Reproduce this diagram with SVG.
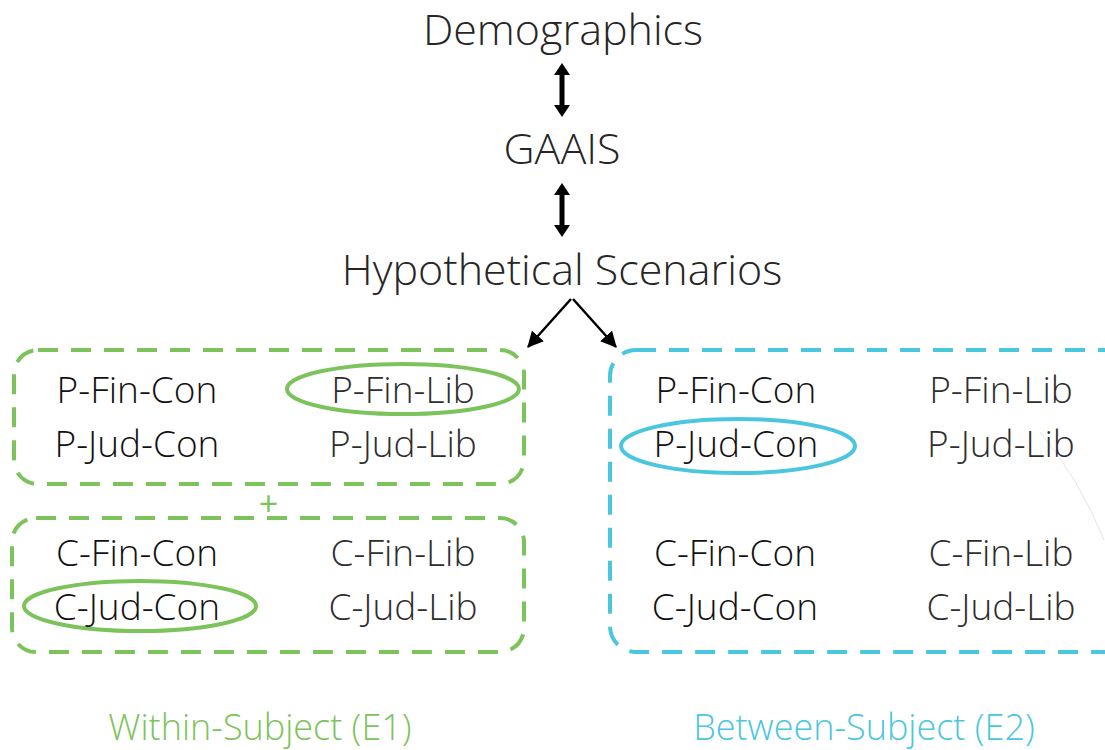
<svg xmlns="http://www.w3.org/2000/svg" width="1105" height="750" viewBox="0 0 1105 750">
  <style>
    .t { font-family: "Open Sans", "Liberation Sans", sans-serif; font-weight: 300; text-anchor: middle; fill: #262626; }
    .head { font-size: 43px; }
    .cell { font-size: 37px; fill: #111111; }
    .lib { fill: #2e2e2e; }
    .green { stroke: #7dc35b; fill: none; stroke-width: 4; }
    .blue { stroke: #4bc6df; fill: none; stroke-width: 4; }
    .dash { stroke-dasharray: 20 13; }
    .lbl { font-size: 36px; }
  </style>
  <defs>
    <marker id="tipBig" viewBox="0 0 14 14" markerWidth="16" markerHeight="16" refX="13" refY="7" orient="auto" markerUnits="userSpaceOnUse">
      <path d="M0,0 L14,7 L0,14 z" fill="#000"/>
    </marker>
  </defs>

  <g id="demographics"><text class="t head" x="563" y="45">Demographics</text></g>
  <g id="gaais"><text class="t head" x="562" y="164">GAAIS</text></g>
  <g id="scenarios"><text class="t head" x="562" y="285">Hypothetical Scenarios</text></g>

  <g id="connectors">
    <!-- double-headed links between stages -->
    <path d="M562,63 L570,75 L564.5,75 L564.5,105 L570,105 L562,117 L554,105 L559.5,105 L559.5,75 L554,75 Z" fill="#000"/>
    <path d="M562,183 L570,195 L564.5,195 L564.5,225 L570,225 L562,237 L554,225 L559.5,225 L559.5,195 L554,195 Z" fill="#000"/>
    <!-- split into the two designs -->
    <line x1="571" y1="299" x2="528" y2="347" stroke="#000" stroke-width="2.5" marker-end="url(#tipBig)"/>
    <line x1="573" y1="299" x2="616" y2="347" stroke="#000" stroke-width="2.5" marker-end="url(#tipBig)"/>
  </g>

  <g id="within-p">
    <rect class="green dash" x="14" y="350" width="510" height="134" rx="24"/>
    <ellipse class="green" cx="403" cy="389" rx="116" ry="25" stroke-width="3.5"/>
    <text class="t cell" x="137" y="403">P-Fin-Con</text>
    <text class="t cell lib" x="403" y="403">P-Fin-Lib</text>
    <text class="t cell" x="137" y="457">P-Jud-Con</text>
    <text class="t cell lib" x="403" y="457">P-Jud-Lib</text>
  </g>

  <g id="plus"><text class="t" x="268.5" y="516" style="font-size:34px;font-weight:400;fill:#7dc35b">+</text></g>

  <g id="within-c">
    <rect class="green dash" x="12" y="518" width="512" height="134" rx="24"/>
    <ellipse class="green" cx="140" cy="606" rx="116" ry="25" stroke-width="3.5"/>
    <text class="t cell" x="137" y="566">C-Fin-Con</text>
    <text class="t cell lib" x="403" y="566">C-Fin-Lib</text>
    <text class="t cell" x="137" y="620">C-Jud-Con</text>
    <text class="t cell lib" x="403" y="620">C-Jud-Lib</text>
  </g>

  <g id="between">
    <rect class="blue dash" x="610" y="350" width="520" height="302" rx="26"/>
    <ellipse class="blue" cx="738" cy="446" rx="117" ry="27" stroke-width="3.5"/>
    <path d="M1040,432 Q1080,480 1104,540" fill="none" stroke="#dddddd" stroke-width="0.8"/>
    <text class="t cell" x="736" y="403">P-Fin-Con</text>
    <text class="t cell lib" x="1001" y="403">P-Fin-Lib</text>
    <text class="t cell" x="736" y="457">P-Jud-Con</text>
    <text class="t cell lib" x="1001" y="457">P-Jud-Lib</text>
    <text class="t cell" x="735" y="566">C-Fin-Con</text>
    <text class="t cell lib" x="1001" y="566">C-Fin-Lib</text>
    <text class="t cell" x="735" y="620">C-Jud-Con</text>
    <text class="t cell lib" x="1001" y="620">C-Jud-Lib</text>
  </g>

  <g id="label-within"><text class="t lbl" x="260" y="740" style="fill:#7dc35b">Within-Subject (E1)</text></g>
  <g id="label-between"><text class="t lbl" x="864" y="740" style="fill:#4bc6df">Between-Subject (E2)</text></g>
</svg>
